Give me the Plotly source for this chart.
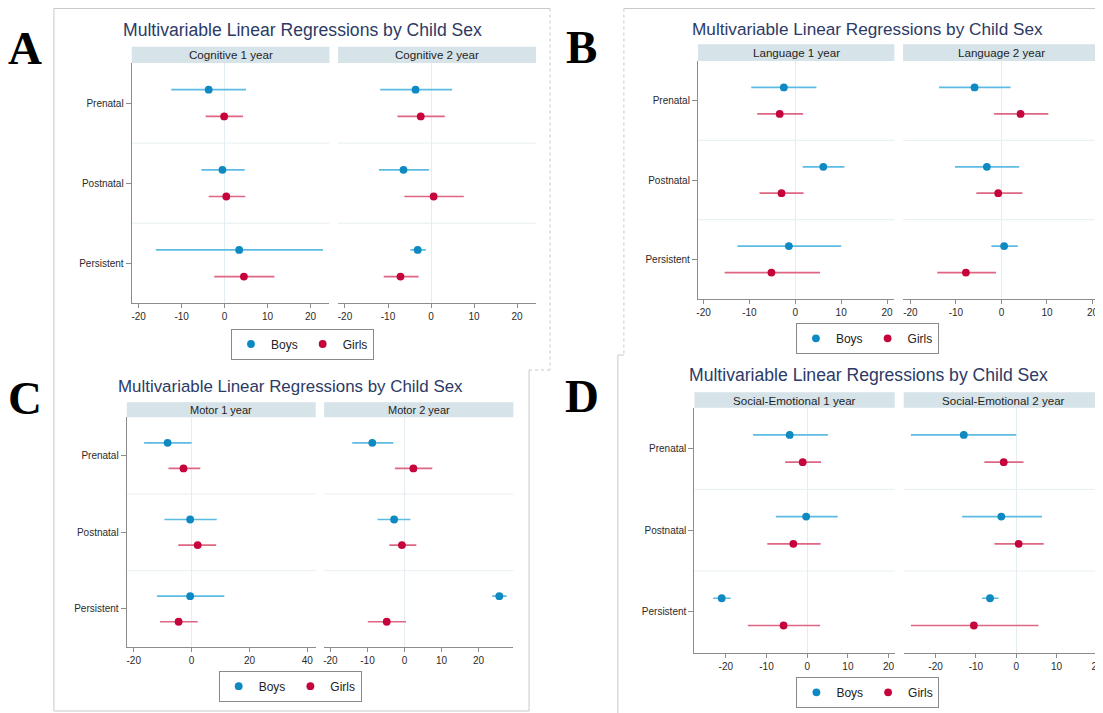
import plotly.graph_objects as go

W, H = 1103, 713
OFF = 8  # page body margin of the browser
FW, FH = W - OFF, H - OFF

# ---------------- data ----------------
categories = ["Prenatal", "Postnatal", "Persistent"]
cat_pos = [1, 2, 3]
group_names = ["Boys", "Girls"]
title_text = "Multivariable Linear Regressions by Child Sex"
panel_letters = ["A", "B", "C", "D"]
strip_labels = ["Cognitive 1 year", "Cognitive 2 year",
                "Language 1 year", "Language 2 year",
                "Motor 1 year", "Motor 2 year",
                "Social-Emotional 1 year", "Social-Emotional 2 year"]
ticks_std = [-20, -10, 0, 10, 20]
ticks_motor1 = [-20, 0, 20, 40]

# Cognitive 1 year
cog1_boys_est = [-3.7, -0.5, 3.4]
cog1_boys_lo = [-12.4, -5.4, -16.0]
cog1_boys_hi = [5.0, 4.7, 22.9]
cog1_girls_est = [-0.1, 0.4, 4.5]
cog1_girls_lo = [-4.4, -3.7, -2.4]
cog1_girls_hi = [4.3, 4.8, 11.6]
# Cognitive 2 year
cog2_boys_est = [-3.6, -6.4, -3.1]
cog2_boys_lo = [-11.8, -12.1, -4.8]
cog2_boys_hi = [4.9, -0.5, -1.2]
cog2_girls_est = [-2.4, 0.6, -7.1]
cog2_girls_lo = [-7.8, -6.2, -11.0]
cog2_girls_hi = [3.2, 7.6, -2.9]
# Language 1 year
lang1_boys_est = [-2.5, 6.1, -1.4]
lang1_boys_lo = [-9.6, 1.6, -12.6]
lang1_boys_hi = [4.6, 10.7, 10.0]
lang1_girls_est = [-3.4, -3.0, -5.2]
lang1_girls_lo = [-8.3, -7.8, -15.4]
lang1_girls_hi = [1.7, 1.8, 5.4]
# Language 2 year
lang2_boys_est = [-5.9, -3.2, 0.6]
lang2_boys_lo = [-13.7, -10.2, -2.2]
lang2_boys_hi = [2.0, 3.9, 3.6]
lang2_girls_est = [4.2, -0.7, -7.8]
lang2_girls_lo = [-1.6, -5.5, -14.1]
lang2_girls_hi = [10.3, 4.6, -1.2]
# Motor 1 year
motor1_boys_est = [-8.3, -0.5, -0.5]
motor1_boys_lo = [-16.4, -9.4, -12.0]
motor1_boys_hi = [0.0, 8.7, 11.3]
motor1_girls_est = [-2.8, 2.1, -4.5]
motor1_girls_lo = [-8.0, -4.6, -10.9]
motor1_girls_hi = [3.0, 8.5, 2.1]
# Motor 2 year
motor2_boys_est = [-8.7, -2.8, 25.6]
motor2_boys_lo = [-14.1, -7.3, 23.7]
motor2_boys_hi = [-3.0, 1.6, 27.6]
motor2_girls_est = [2.4, -0.7, -4.8]
motor2_girls_lo = [-2.6, -4.1, -9.9]
motor2_girls_hi = [7.5, 3.2, 0.4]
# Social-Emotional 1 year
se1_boys_est = [-4.3, -0.25, -21.0]
se1_boys_lo = [-13.3, -7.7, -23.1]
se1_boys_hi = [5.1, 7.5, -18.8]
se1_girls_est = [-1.1, -3.4, -5.8]
se1_girls_lo = [-5.4, -9.8, -14.6]
se1_girls_hi = [3.4, 3.3, 3.2]
# Social-Emotional 2 year
se2_boys_est = [-13.0, -3.7, -6.5]
se2_boys_lo = [-26.1, -13.4, -8.5]
se2_boys_hi = [0.0, 6.4, -4.4]
se2_girls_est = [-3.1, 0.6, -10.5]
se2_girls_lo = [-7.9, -5.4, -26.1]
se2_girls_hi = [1.8, 6.8, 5.5]

series = [
    ((cog1_boys_est, cog1_boys_lo, cog1_boys_hi), (cog1_girls_est, cog1_girls_lo, cog1_girls_hi)),
    ((cog2_boys_est, cog2_boys_lo, cog2_boys_hi), (cog2_girls_est, cog2_girls_lo, cog2_girls_hi)),
    ((lang1_boys_est, lang1_boys_lo, lang1_boys_hi), (lang1_girls_est, lang1_girls_lo, lang1_girls_hi)),
    ((lang2_boys_est, lang2_boys_lo, lang2_boys_hi), (lang2_girls_est, lang2_girls_lo, lang2_girls_hi)),
    ((motor1_boys_est, motor1_boys_lo, motor1_boys_hi), (motor1_girls_est, motor1_girls_lo, motor1_girls_hi)),
    ((motor2_boys_est, motor2_boys_lo, motor2_boys_hi), (motor2_girls_est, motor2_girls_lo, motor2_girls_hi)),
    ((se1_boys_est, se1_boys_lo, se1_boys_hi), (se1_girls_est, se1_girls_lo, se1_girls_hi)),
    ((se2_boys_est, se2_boys_lo, se2_boys_hi), (se2_girls_est, se2_girls_lo, se2_girls_hi)),
]

# ---------------- layout (pixel geometry in page coordinates) ----------------
def fx(px):
    return (px - OFF) / FW

def fy(py):
    return 1 - (py - OFF) / FH

# x0, x1, plot_top, plot_bottom, strip_top, xrange, ticks
subplots = [
    (130.0, 328.0, 63.0, 303.3, 46.7, [-21.6, 24.4], ticks_std),
    (336.7, 535.0, 63.0, 303.3, 46.7, [-21.6, 24.4], ticks_std),
    (697.3, 894.0, 61.0, 299.0, 44.3, [-21.2, 21.6], ticks_std),
    (902.7, 1099.3, 61.0, 299.0, 44.3, [-21.6, 21.5], ticks_std),
    (125.0, 314.3, 417.3, 647.3, 402.3, [-22.4, 42.9], ticks_motor1),
    (322.7, 512.3, 417.3, 647.3, 402.3, [-21.7, 29.4], ticks_std),
    (693.7, 894.3, 407.7, 652.7, 392.3, [-27.7, 21.5], ticks_std),
    (903.3, 1103.0, 407.7, 652.7, 392.3, [-27.9, 21.5], ticks_std),
]
titles_pos = [(301.2, 30.5), (867.5, 29.3), (289.0, 386.7), (867.8, 375.0)]
title_sizes = [17.6, 17.2, 16.9, 17.6]
letters_pos = [(23.0, 48.0), (581.0, 47.0), (23.0, 398.0), (581.0, 396.0)]
legend_pos = [(301.0, 344.0), (867.0, 338.3), (288.7, 686.2), (867.5, 692.3)]

boys_marker = "#0f89c2"
boys_ci = "#5dbbe3"
girls_marker = "#c6043c"
girls_ci = "#dd6683"
axis_gray = "#8c8c8c"
font_family = "Liberation Sans, Arial, sans-serif"

fig = go.Figure()
shapes = []
annotations = []
layout = {}

offset = 1 / 6
for k, (spec, data) in enumerate(zip(subplots, series)):
    x0, x1, ptop, pbot, stop, xr, tks = spec
    n = k + 1
    xa = "x" if n == 1 else f"x{n}"
    ya = "y" if n == 1 else f"y{n}"
    panel = k // 2
    leg = "legend" if panel == 0 else f"legend{panel + 1}"
    first = (k % 2 == 0)
    for g, (est, lo, hi) in enumerate(data):
        ys = [p - offset if g == 0 else p + offset for p in cat_pos]
        fig.add_trace(go.Scatter(
            x=est, y=ys, mode="markers",
            name=group_names[g],
            marker=dict(color=boys_marker if g == 0 else girls_marker, size=7.8,
                        line=dict(width=0)),
            error_x=dict(type="data", symmetric=False,
                         array=[h - e for h, e in zip(hi, est)],
                         arrayminus=[e - l for e, l in zip(est, lo)],
                         color=boys_ci if g == 0 else girls_ci,
                         thickness=1.7, width=0),
            xaxis=xa, yaxis=ya, legend=leg,
            showlegend=first, legendgroup=f"{panel}-{g}",
        ))
    xkey = "xaxis" if n == 1 else f"xaxis{n}"
    ykey = "yaxis" if n == 1 else f"yaxis{n}"
    layout[xkey] = dict(
        domain=[fx(x0), fx(x1)], anchor=ya, range=xr,
        tickvals=tks, ticktext=[str(t) for t in tks],
        ticks="outside", ticklen=4, tickcolor=axis_gray,
        showline=True, linecolor=axis_gray, linewidth=1.3,
        showgrid=False, zeroline=True, zerolinecolor="#e4eef2", zerolinewidth=1,
        tickfont=dict(size=10, color="#2a2a2a", family=font_family),
        fixedrange=True,
    )
    left = first
    layout[ykey] = dict(
        domain=[fy(pbot), fy(ptop)], anchor=xa, range=[3.5, 0.5],
        tickvals=cat_pos, ticktext=categories,
        ticks="outside" if left else "", ticklen=5, tickcolor=axis_gray,
        showline=left, linecolor=axis_gray, linewidth=1.3,
        showticklabels=left, showgrid=False, zeroline=False,
        tickfont=dict(size=10, color="#2a2a2a", family=font_family),
        fixedrange=True,
    )
    # category separators
    for sep in [1.5, 2.5]:
        shapes.append(dict(type="line", xref=f"{xa} domain", yref=ya,
                           x0=0, x1=1, y0=sep, y1=sep,
                           line=dict(color="#e6eff2", width=1), layer="below"))
    # strip
    shapes.append(dict(type="rect", xref="paper", yref="paper",
                       x0=fx(x0), x1=fx(x1), y0=fy(ptop), y1=fy(stop),
                       fillcolor="#d6e3e9", line=dict(width=0), layer="below"))
    annotations.append(dict(text=strip_labels[k], xref="paper", yref="paper",
                            x=fx((x0 + x1) / 2), y=fy((ptop + stop) / 2),
                            xanchor="center", yanchor="middle", showarrow=False,
                            font=dict(size=11 if panel == 2 else 11.6, color="#1e1e1e",
                                      family=font_family)))

for p in range(4):
    tx, ty = titles_pos[p]
    annotations.append(dict(text=title_text, xref="paper", yref="paper",
                            x=fx(tx), y=fy(ty), xanchor="center", yanchor="middle",
                            showarrow=False,
                            font=dict(size=title_sizes[p], color="#2c3a66",
                                      family=font_family)))
    lx, ly = letters_pos[p]
    annotations.append(dict(text=f"<b>{panel_letters[p]}</b>", xref="paper", yref="paper",
                            x=fx(lx), y=fy(ly), xanchor="center", yanchor="middle",
                            showarrow=False,
                            font=dict(size=47, color="#000000",
                                      family="Liberation Serif, Times New Roman, serif")))
    gx, gy = legend_pos[p]
    key = "legend" if p == 0 else f"legend{p + 1}"
    layout[key] = dict(x=fx(gx), y=fy(gy), xanchor="center", yanchor="middle",
                       xref="paper", yref="paper",
                       orientation="h", bordercolor="#8a8a8a", borderwidth=1,
                       bgcolor="white", itemwidth=30,
                       font=dict(size=12, color="#222222", family=font_family))

# panel frames
frame = dict(color="#c9c9c9", width=1)
dotted = dict(color="#c9c9c9", width=1, dash="dot")
frame_lines = [
    ((52, 8.5), (549, 8.5), frame),
    ((52, 8.5), (52, 711), frame),
    ((549, 8.5), (549, 370), dotted),
    ((528, 370), (549, 370), dotted),
    ((528, 370), (528, 711), frame),
    ((52, 711), (528, 711), frame),
    ((623, 8.5), (1103, 8.5), frame),
    ((623, 8.5), (623, 355), dotted),
    ((617, 355), (623, 355), frame),
    ((617, 355), (617, 713), frame),
]
for (ax0, ay0), (ax1, ay1), ln in frame_lines:
    shapes.append(dict(type="line", xref="paper", yref="paper",
                       x0=fx(ax0), y0=fy(ay0), x1=fx(ax1), y1=fy(ay1), line=ln))

fig.update_layout(
    width=FW, height=FH, autosize=False,
    margin=dict(l=0, r=0, t=0, b=0),
    paper_bgcolor="white", plot_bgcolor="white",
    shapes=shapes, annotations=annotations,
    font=dict(family=font_family),
    **layout,
)

fig.write_html("out.html", config={"displayModeBar": False})
